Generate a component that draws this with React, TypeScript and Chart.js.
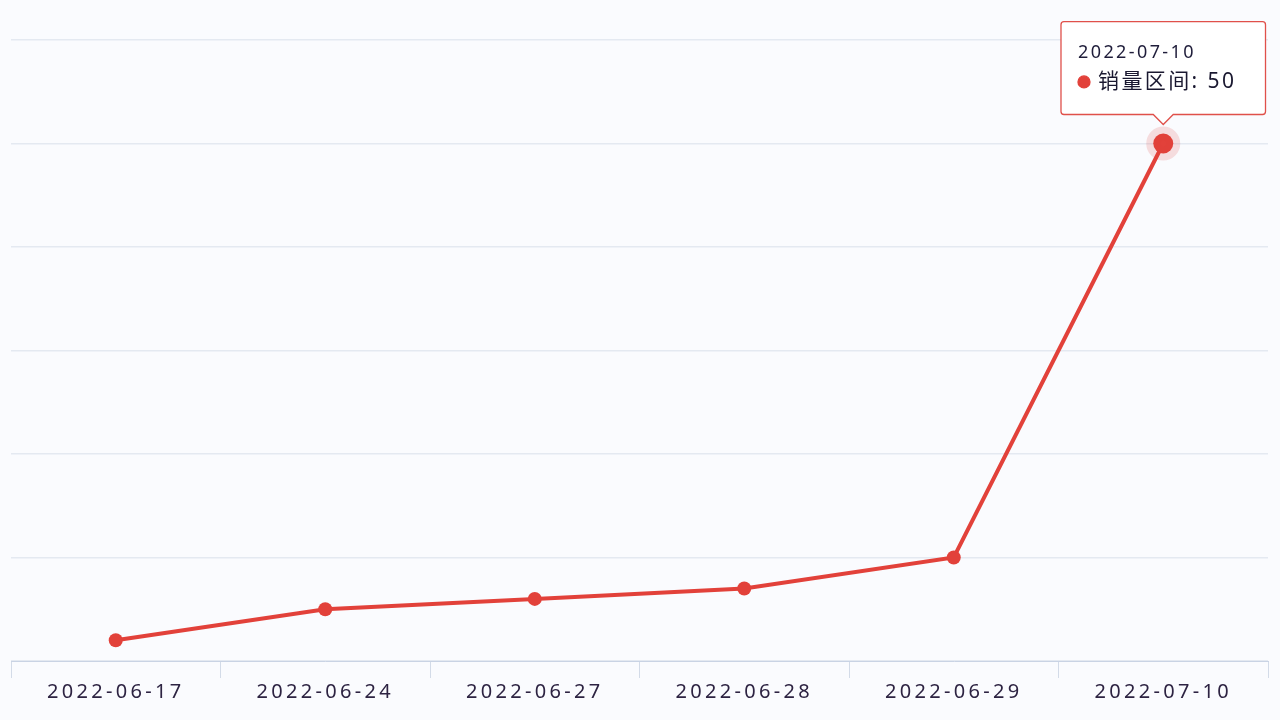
import React, { useEffect, useRef } from "react";
import { Chart, registerables } from "chart.js";

Chart.register(...registerables);

const categories = ["2022-06-17", "2022-06-24", "2022-06-27", "2022-06-28", "2022-06-29", "2022-07-10"];
const salesRange = [2, 5, 6, 7, 10, 50];
const seriesName = "销量区间";
const activeIndex = 5;

const RED = "#e2413a";
const FONT = "'Noto Sans', 'Noto Sans CJK SC', sans-serif";

const spacingPlugin = {
  id: "letterSpacing",
  beforeUpdate(chart: any) {
    (chart.ctx as any).letterSpacing = "3.3px";
  },
  beforeDraw(chart: any) {
    (chart.ctx as any).letterSpacing = "3.3px";
  },
  beforeTooltipDraw(chart: any) {
    (chart.ctx as any).letterSpacing = "2.4px";
  },
};

export default function App() {
  const ref = useRef<HTMLCanvasElement | null>(null);

  useEffect(() => {
    if (!ref.current) return;
    const chart = new Chart(ref.current, {
      type: "line",
      data: {
        labels: categories,
        datasets: [
          {
            label: seriesName,
            data: salesRange,
            borderColor: RED,
            backgroundColor: RED,
            borderWidth: 4,
            pointRadius: 7,
            pointBackgroundColor: RED,
            pointBorderWidth: 0,
            pointHoverRadius: 10,
            pointHoverBackgroundColor: RED,
            pointHoverBorderColor: "rgba(226,65,58,0.16)",
            pointHoverBorderWidth: 14,
            tension: 0,
          },
        ],
      },
      options: {
        animation: false,
        responsive: true,
        maintainAspectRatio: false,
        events: [],
        layout: { padding: { left: 11, right: 12, top: 40, bottom: 14 } },
        plugins: {
          legend: { display: false },
          title: { display: false },
          tooltip: {
            enabled: true,
            backgroundColor: "#ffffff",
            borderColor: "#e0504a",
            borderWidth: 1.3,
            titleColor: "#1f1d3a",
            bodyColor: "#1a1830",
            titleFont: { size: 18, weight: "normal", family: FONT },
            bodyFont: { size: 21, weight: "normal", family: FONT },
            padding: { left: 17, right: 22, top: 20, bottom: 20 },
            cornerRadius: 3,
            caretSize: 10,
            caretPadding: 19,
            xAlign: "center",
            yAlign: "bottom",
            displayColors: true,
            usePointStyle: true,
            boxWidth: 12,
            boxHeight: 12,
            boxPadding: 6,
            titleMarginBottom: 6,
            callbacks: {
              label: (ctx: any) => `${ctx.dataset.label}: ${ctx.parsed.y}`,
              labelPointStyle: () => ({ pointStyle: "circle", rotation: 0 }),
              labelColor: () => ({ borderColor: RED, backgroundColor: RED, borderWidth: 0 }),
            },
          },
        },
        scales: {
          x: {
            offset: true,
            grid: {
              display: true,
              drawOnChartArea: false,
              drawTicks: true,
              tickLength: 17,
              offset: true,
              color: "#d3dbe8",
            },
            border: { display: true, color: "#c9d3e4", width: 1 },
            ticks: {
              color: "#2d2342",
              font: { size: 20, family: FONT },
              padding: 2,
              maxRotation: 0,
              autoSkip: false,
            },
          },
          y: {
            min: 0,
            max: 60,
            ticks: { display: false, stepSize: 10 },
            grid: { color: "#e4e9f1", drawTicks: false, lineWidth: 1.5 },
            border: { display: false },
          },
        },
      },
      plugins: [spacingPlugin],
    });

    const el = chart.getDatasetMeta(0).data[activeIndex] as any;
    chart.setActiveElements([{ datasetIndex: 0, index: activeIndex }]);
    chart.tooltip?.setActiveElements([{ datasetIndex: 0, index: activeIndex }], { x: el.x, y: el.y });
    chart.update();

    return () => chart.destroy();
  }, []);

  return (
    <div style={{ position: "fixed", left: 0, top: 0, width: 1280, height: 720, background: "#fafbfe" }}>
      <canvas ref={ref} />
    </div>
  );
}
